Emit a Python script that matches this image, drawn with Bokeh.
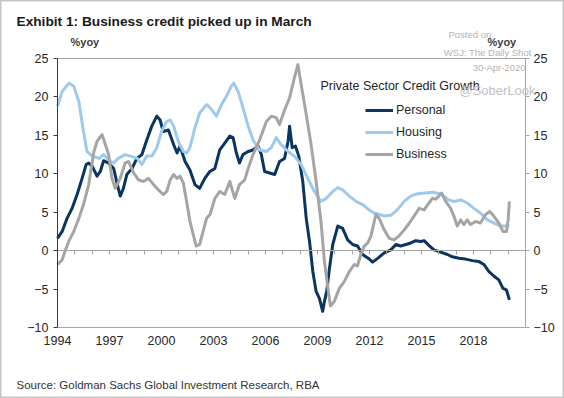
from bokeh.plotting import figure
from bokeh.models import Range1d, LinearAxis, FixedTicker, Label, Legend
from bokeh.embed import file_html
from bokeh.resources import INLINE

# ---------------- data ----------------
personal_x = [1994.0, 1994.27, 1994.55, 1994.84, 1995.13, 1995.42, 1995.65, 1995.8, 1996.0, 1996.28,
              1996.47, 1996.66, 1996.95, 1997.24, 1997.43, 1997.62, 1997.8, 1998.0, 1998.3, 1998.58,
              1998.87, 1999.15, 1999.44, 1999.73, 1999.92, 2000.1, 2000.4, 2000.7, 2000.9, 2001.07,
              2001.36, 2001.64, 2001.93, 2002.2, 2002.5, 2002.79, 2003.08, 2003.36, 2003.65, 2003.94,
              2004.13, 2004.32, 2004.5, 2004.7, 2005.0, 2005.28, 2005.57, 2005.76, 2005.95, 2006.24,
              2006.53, 2006.81, 2007.1, 2007.3, 2007.39, 2007.54, 2007.73, 2007.92, 2008.15, 2008.35,
              2008.54, 2008.73, 2008.92, 2009.11, 2009.3, 2009.4, 2009.53, 2009.69, 2009.88, 2010.17,
              2010.45, 2010.74, 2011.03, 2011.31, 2011.6, 2011.99, 2012.18, 2012.47, 2012.85, 2013.23,
              2013.52, 2013.8, 2014.1, 2014.38, 2014.67, 2014.96, 2015.15, 2015.44, 2015.72, 2016.1,
              2016.5, 2016.78, 2017.16, 2017.54, 2017.93, 2018.3, 2018.6, 2018.88, 2019.17, 2019.46,
              2019.7, 2019.9, 2020.07]
personal_y = [1.6, 2.5, 4.2, 5.5, 7.3, 9.4, 11.2, 11.4, 11.0, 9.7,
              10.3, 11.7, 11.4, 10.7, 8.8, 7.1, 8.1, 9.9, 10.7, 12.0,
              12.5, 14.4, 16.2, 17.5, 17.0, 15.5, 15.7, 13.8, 12.7, 13.6,
              11.6, 10.5, 8.6, 8.1, 9.4, 10.3, 10.7, 13.1, 14.0, 14.9,
              14.7, 12.7, 11.4, 12.5, 12.9, 13.1, 13.6, 12.5, 10.3, 10.1,
              9.9, 11.6, 12.0, 14.2, 16.2, 13.4, 13.6, 12.3, 9.0, 4.2,
              1.2, -2.7, -5.3, -6.2, -7.9, -6.6, -5.3, -2.3, 0.8, 3.2,
              2.9, 1.4, 0.8, 0.6, -0.5, -1.1, -1.5, -1.0, -0.3, 0.1,
              0.8, 0.6, 0.8, 1.0, 1.3, 1.2, 1.3, 0.65, 0.1, -0.2,
              -0.5, -0.8, -1.0, -1.1, -1.3, -1.4, -1.8, -2.7, -3.3, -3.8,
              -4.9, -5.1, -6.4]

housing_x = [1994.0, 1994.27, 1994.65, 1994.94, 1995.23, 1995.5, 1995.7, 1996.0, 1996.4, 1996.66,
             1996.95, 1997.24, 1997.5, 1997.9, 1998.2, 1998.6, 1998.87, 1999.15, 1999.44, 1999.73,
             2000.0, 2000.3, 2000.5, 2000.7, 2000.97, 2001.26, 2001.45, 2001.64, 2001.93, 2002.2,
             2002.6, 2002.8, 2003.17, 2003.46, 2003.75, 2004.03, 2004.17, 2004.42, 2004.7, 2005.0,
             2005.28, 2005.66, 2006.05, 2006.33, 2006.62, 2006.9, 2007.3, 2007.67, 2008.06, 2008.44,
             2008.82, 2009.2, 2009.5, 2009.88, 2010.17, 2010.45, 2010.84, 2011.22, 2011.6, 2011.98,
             2012.27, 2012.85, 2013.23, 2013.6, 2014.0, 2014.38, 2014.77, 2015.24, 2015.63, 2016.1,
             2016.58, 2016.87, 2017.26, 2017.64, 2018.02, 2018.4, 2018.79, 2019.17, 2019.55, 2019.84,
             2020.07]
housing_y = [18.8, 20.7, 21.8, 21.4, 19.4, 15.5, 12.9, 12.3, 12.0, 12.5,
             11.8, 11.4, 12.0, 12.5, 12.3, 12.0, 11.2, 12.3, 12.3, 13.4,
             15.5, 16.8, 17.0, 16.2, 14.2, 12.9, 12.7, 13.4, 16.0, 17.9,
             19.0, 18.6, 17.5, 19.0, 20.1, 21.4, 21.8, 20.7, 18.6, 16.2,
             14.4, 13.1, 12.9, 13.4, 14.7, 13.8, 12.9, 12.3, 11.2, 9.4,
             7.7, 6.4, 6.8, 7.7, 8.2, 7.9, 7.1, 6.4, 6.0, 5.3,
             4.9, 4.5, 4.6, 5.3, 6.4, 7.1, 7.4, 7.5, 7.6, 7.4,
             6.6, 6.4, 6.6, 6.2, 5.5, 4.9, 4.0, 3.6, 3.2, 3.2,
             3.2]

business_x = [1994.0, 1994.27, 1994.46, 1994.65, 1994.94, 1995.23, 1995.5, 1995.8, 1996.1, 1996.28,
              1996.57, 1996.76, 1996.95, 1997.14, 1997.33, 1997.62, 1997.9, 1998.1, 1998.4, 1998.67,
              1998.96, 1999.25, 1999.54, 1999.82, 2000.1, 2000.3, 2000.5, 2000.7, 2000.9, 2001.07,
              2001.26, 2001.45, 2001.64, 2001.83, 2002.0, 2002.2, 2002.4, 2002.6, 2002.8, 2003.08,
              2003.36, 2003.65, 2003.94, 2004.23, 2004.5, 2004.8, 2005.0, 2005.28, 2005.66, 2006.05,
              2006.33, 2006.62, 2006.81, 2007.1, 2007.39, 2007.67, 2007.87, 2008.06, 2008.35, 2008.63,
              2008.92, 2009.2, 2009.4, 2009.6, 2009.75, 2009.97, 2010.26, 2010.55, 2010.84, 2011.13,
              2011.3, 2011.5, 2011.7, 2011.9, 2012.08, 2012.37, 2012.56, 2012.85, 2013.14, 2013.42,
              2013.7, 2014.0, 2014.3, 2014.57, 2014.86, 2015.15, 2015.43, 2015.63, 2015.82, 2016.0,
              2016.16, 2016.4, 2016.68, 2016.87, 2017.06, 2017.26, 2017.45, 2017.64, 2017.83, 2018.12,
              2018.4, 2018.7, 2018.94, 2019.17, 2019.46, 2019.7, 2019.9, 2020.0, 2020.07]
business_y = [-1.8, -1.2, 0.1, 1.2, 2.5, 4.2, 6.0, 8.6, 12.9, 14.2,
              15.1, 13.8, 12.5, 9.4, 8.1, 9.4, 11.4, 11.6, 10.1, 9.2,
              9.0, 9.4, 8.6, 7.9, 7.3, 7.7, 9.2, 9.9, 9.4, 9.7,
              8.8, 6.4, 3.8, 2.1, 0.6, 0.8, 2.5, 4.2, 4.7, 6.8,
              7.7, 7.3, 9.0, 6.8, 8.6, 9.2, 10.7, 12.5, 14.4, 16.8,
              17.5, 17.3, 16.4, 18.3, 19.9, 22.5, 24.2, 21.6, 17.7, 13.8,
              9.0, 3.8, -1.4, -4.9, -7.2, -6.6, -4.9, -4.0, -2.7, -1.8,
              -2.0, -0.5, 0.6, 1.0, 1.9, 4.7, 4.2, 2.7, 1.6, 1.4,
              1.9, 2.7, 3.6, 4.5, 5.5, 5.3, 6.2, 6.8, 6.7, 7.1,
              7.5, 6.4, 5.5, 4.5, 3.2, 4.0, 3.4, 4.0, 3.4, 3.8,
              3.6, 4.7, 5.1, 4.5, 3.6, 2.5, 2.5, 4.0, 6.4]

series_names = ["Personal", "Housing", "Business"]
year_labels = [1994, 1997, 2000, 2003, 2006, 2009, 2012, 2015, 2018]
year_ticks = list(range(1994, 2022))
value_ticks = [-10, -5, 0, 5, 10, 15, 20, 25]
x_lo, x_hi = 1994, 2021
y_lo, y_hi = -10, 25

title_text = "Exhibit 1: Business credit picked up in March"
unit_text = "%yoy"
legend_title = "Private Sector Credit Growth"
source_text = "Source: Goldman Sachs Global Investment Research, RBA"

# ---------------- layout (pixels) ----------------
W, H = 564, 398
PX_L, PX_R, PX_T, PX_B = 57, 525, 58, 327   # chart box edges in the canvas

kx = (PX_R - PX_L) / (x_hi - x_lo)
ky = (PX_B - PX_T) / (y_hi - y_lo)
x_range = Range1d(x_lo - PX_L / kx, x_hi + (W - PX_R) / kx)
y_range = Range1d(y_lo - (H - PX_B) / ky, y_hi + PX_T / ky)

FONT = "Liberation Sans"
TXT = "#262626"
GRAY = "#a6a6a6"
C_PERS = "#0b3560"
C_HOUS = "#9dcaee"
C_BUS = "#a5a5a5"
WM = "#b4b4b4"

p = figure(width=W, height=H, output_backend="svg", toolbar_location=None,
           x_range=x_range, y_range=y_range,
           x_axis_location=None, y_axis_location=None,
           min_border=0, min_border_left=0, min_border_right=0,
           min_border_top=0, min_border_bottom=0)
p.title.visible = False
p.background_fill_color = "white"
p.border_fill_color = "white"
p.grid.visible = False
p.outline_line_color = "#c6c6c6"
p.outline_line_width = 2


def style_labels(ax):
    ax.major_label_text_font = FONT
    ax.major_label_text_font_size = "12.5px"
    ax.major_label_text_color = TXT
    ax.minor_tick_line_color = None


# left value axis
la = LinearAxis(fixed_location=x_lo, bounds=(y_lo, y_hi), ticker=FixedTicker(ticks=value_ticks))
style_labels(la)
la.axis_line_color = "#3a3a3a"
la.major_tick_line_color = "#3a3a3a"
la.major_tick_in = 0
la.major_tick_out = 4
la.major_label_standoff = 5
p.add_layout(la, "left")

# right value axis
ra = LinearAxis(fixed_location=x_hi, bounds=(y_lo, y_hi), ticker=FixedTicker(ticks=value_ticks))
style_labels(ra)
ra.axis_line_color = GRAY
ra.major_tick_line_color = GRAY
ra.major_tick_in = 0
ra.major_tick_out = 4
ra.major_label_standoff = 4
p.add_layout(ra, "right")

# bottom border with year labels
ba = LinearAxis(fixed_location=y_lo, bounds=(x_lo, x_hi), ticker=FixedTicker(ticks=year_labels))
style_labels(ba)
ba.axis_line_color = GRAY
ba.major_tick_line_color = None
ba.major_tick_in = 0
ba.major_tick_out = 0
ba.major_label_standoff = 8
p.add_layout(ba, "below")

# top border
ta = LinearAxis(fixed_location=y_hi, bounds=(x_lo, x_hi), ticker=FixedTicker(ticks=[]))
ta.axis_line_color = GRAY
ta.major_tick_line_color = None
ta.minor_tick_line_color = None
ta.major_label_text_color = None
p.add_layout(ta, "above")

# zero line with yearly ticks hanging below
za = LinearAxis(fixed_location=0, bounds=(x_lo, x_hi), ticker=FixedTicker(ticks=year_ticks))
za.axis_line_color = GRAY
za.major_tick_line_color = GRAY
za.major_tick_in = 0
za.major_tick_out = 4
za.minor_tick_line_color = None
za.major_label_text_color = None
p.add_layout(za, "below")

# series
r1 = p.line(personal_x, personal_y, line_color=C_PERS, line_width=3, line_join="round")
r2 = p.line(housing_x, housing_y, line_color=C_HOUS, line_width=3, line_join="round")
r3 = p.line(business_x, business_y, line_color=C_BUS, line_width=3, line_join="round")

legend = Legend(items=[(series_names[0], [r1]), (series_names[1], [r2]), (series_names[2], [r3])],
                location=(365, H - 164), border_line_color=None, background_fill_alpha=0,
                padding=0, margin=0, spacing=2, glyph_width=28, glyph_height=20,
                label_height=20, label_standoff=3, label_text_font=FONT,
                label_text_font_size="12.5px", label_text_color=TXT)
p.add_layout(legend)


def lab(x, y, text, size, color=TXT, bold=False, align="left"):
    # x, y: pixel position measured from the top-left corner of the canvas
    p.add_layout(Label(x=x, y=H - y, x_units="screen", y_units="screen", text=text,
                       text_font=FONT, text_font_size=size, text_color=color,
                       text_font_style="bold" if bold else "normal",
                       text_baseline="middle", text_align=align))


lab(16, 21, title_text, "13.7px", color="#1a1a1a", bold=True)
lab(70, 41, unit_text, "11px", color="#404040", bold=True)
lab(487, 41, unit_text, "11px", color="#404040", bold=True)
lab(320, 85, legend_title, "12.5px")
lab(16, 384, source_text, "11.5px", color="#333333")

# watermark texts
lab(448, 34, "Posted on", "9.5px", color=WM)
lab(531, 52, "WSJ: The Daily Shot", "9.5px", color=WM, align="right")
lab(525, 67, "30-Apr-2020", "9.5px", color=WM, align="right")
lab(459, 90, "@SoberLook", "13px", color="#c2c2c2")

open("out.html", "w").write(file_html(p, INLINE))
